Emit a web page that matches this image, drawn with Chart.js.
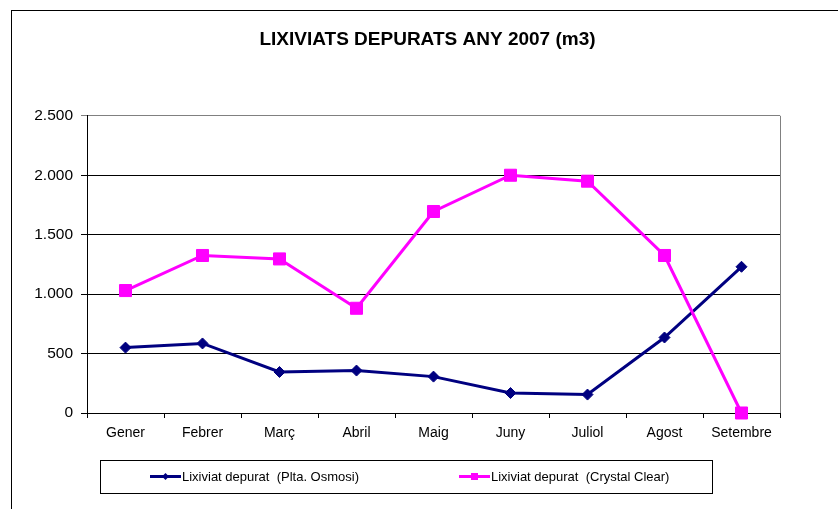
<!DOCTYPE html>
<html>
<head>
<meta charset="utf-8">
<script src="https://cdn.jsdelivr.net/npm/chart.js@4"></script>
<style>
  body { margin: 0; background: #fff; }
</style>
</head>
<body>
<canvas id="lixiviats" width="838" height="509"></canvas>
<script>
//------------------------------------------------------------------------------
// dades (m3 per mes, llegides del gràfic)
//------------------------------------------------------------------------------
var mesos   = ["Gener", "Febrer", "Març", "Abril", "Maig", "Juny", "Juliol", "Agost", "Setembre"];
var osmosi  = [550, 585, 345, 357, 306, 168, 155, 635, 1230];
var crystal = [1030, 1325, 1296, 881, 1695, 2000, 1950, 1325, 0];
var yMin = 0, yMax = 2500, yPas = 500;

var osm_t = "Lixiviat depurat  (Plta. Osmosi)";  var osm_c = "#000080";
var cry_t = "Lixiviat depurat  (Crystal Clear)"; var cry_c = "#ff00ff";

var FONT = "'Liberation Sans', Arial, sans-serif";
Chart.defaults.font.family = FONT;
Chart.defaults.color = "#000";

function miles(v) { return String(v).replace(/\B(?=(\d{3})+(?!\d))/g, "."); }

//------------------------------------------------------------------------------
// marcs: requadre exterior, vora dreta de l'àrea del gràfic, llegenda
//------------------------------------------------------------------------------
var marcs = {
  id: "marcs",
  beforeDraw: function(chart) {
    var c = chart.ctx;
    c.save();
    c.fillStyle = "#fff";
    c.fillRect(0, 0, chart.width, chart.height);
    c.strokeStyle = "#000";
    c.lineWidth = 1;
    c.strokeRect(11.5, 10.5, chart.width, chart.height);
    c.restore();
  },
  beforeDatasetsDraw: function(chart) {
    var a = chart.chartArea, c = chart.ctx;
    var x = Math.round(a.right) + 0.5;
    c.save();
    c.strokeStyle = "#808080";
    c.lineWidth = 1;
    c.beginPath();
    c.moveTo(x, a.top);
    c.lineTo(x, a.bottom);
    c.stroke();
    c.restore();
  }
};

function marca(c, estil, x, y, r) {
  c.beginPath();
  if (estil === "rectRot") {
    c.moveTo(x, y - r); c.lineTo(x + r, y); c.lineTo(x, y + r); c.lineTo(x - r, y);
    c.closePath();
  } else {
    c.rect(x - r, y - r, 2 * r, 2 * r);
  }
  c.fill();
}

var llegenda = {
  id: "llegenda",
  afterDraw: function(chart, args, opts) {
    var c = chart.ctx, b = opts.box;
    var y = b[1] + b[3] / 2;
    c.save();
    c.strokeStyle = "#000";
    c.lineWidth = 1;
    c.strokeRect(b[0] + 0.5, b[1] + 0.5, b[2], b[3]);
    c.font = opts.font;
    c.textBaseline = "middle";
    opts.ordre.forEach(function(i, k) {
      var ds = chart.data.datasets[i];
      var x = opts.x[k];
      c.strokeStyle = ds.borderColor;
      c.lineWidth = 3;
      c.beginPath();
      c.moveTo(x, y);
      c.lineTo(x + 31, y);
      c.stroke();
      c.fillStyle = ds.borderColor;
      marca(c, ds.pointStyle, x + 15.5, y, opts.r[k]);
      c.fillStyle = "#000";
      c.fillText(ds.label, x + 32, y + 0.5);
    });
    c.restore();
  }
};

//------------------------------------------------------------------------------
var ctx = document.getElementById("lixiviats");
var chart = new Chart(ctx, {
  type: "line",
  data: {
    labels: mesos,
    datasets: [{
      label: osm_t,
      data: osmosi,
      borderColor: osm_c,
      backgroundColor: osm_c,
      borderWidth: 3,
      pointStyle: "rectRot",
      pointRadius: 5.5,
      pointBorderWidth: 1,
      pointBackgroundColor: osm_c,
      pointBorderColor: osm_c,
      tension: 0,
      order: 1
    }, {
      label: cry_t,
      data: crystal,
      borderColor: cry_c,
      backgroundColor: cry_c,
      borderWidth: 3,
      pointStyle: "rect",
      pointRadius: 8.5,
      pointBorderWidth: 1,
      pointBackgroundColor: cry_c,
      pointBorderColor: cry_c,
      tension: 0,
      order: 0
    }]
  },
  options: {
    responsive: false,
    animation: false,
    clip: false,
    layout: { padding: { left: 17, right: 0, top: 0, bottom: 66 } },
    plugins: {
      legend: { display: false },
      tooltip: { enabled: false },
      title: {
        display: true,
        text: "LIXIVIATS DEPURATS ANY 2007 (m3)",
        color: "#000",
        font: { size: 19, weight: "bold" },
        padding: { top: 28, bottom: 65 }
      },
      llegenda: {
        box: [100, 460, 612, 33],
        x: [150, 459],
        r: [3.5, 3.5],
        ordre: [0, 1],
        font: "13px " + FONT
      }
    },
    scales: {
      x: {
        offset: true,
        afterFit: function(s) { s.height = 30; },
        border: { color: "#000", width: 1 },
        grid: { offset: true, drawOnChartArea: false, tickLength: 5, color: "#000" },
        ticks: { color: "#000", padding: 7, font: { size: 14 }, maxRotation: 0 }
      },
      y: {
        min: yMin,
        max: yMax,
        afterFit: function(s) { s.width = 70; },
        border: { color: "#000", width: 1 },
        grid: {
          tickLength: 6,
          color: function(c) { return c.tick && c.tick.value === yMax ? "#808080" : "#000"; }
        },
        ticks: {
          stepSize: yPas,
          padding: 8,
          color: "#000",
          font: { size: 15.5 },
          callback: function(v) { return miles(v); }
        }
      },
      // eix buit a la dreta: només reserva el marge blanc
      marge: {
        position: "right",
        display: true,
        afterFit: function(s) { s.width = 58; },
        border: { display: false },
        grid: { display: false },
        ticks: { display: false }
      }
    }
  },
  plugins: [marcs, llegenda]
});
</script>
</body>
</html>
